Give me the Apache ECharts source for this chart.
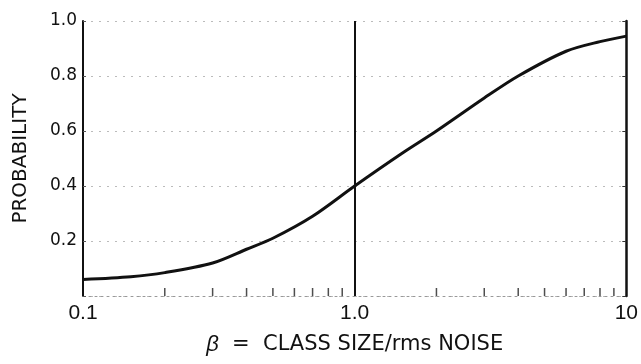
<!DOCTYPE html>
<html>
<head>
<meta charset="utf-8">
<script src="https://cdn.jsdelivr.net/npm/echarts@6/dist/echarts.min.js"></script>
<style>
  html, body { margin: 0; padding: 0; background: #fff; }
  #chart { width: 641px; height: 364px; }
</style>
</head>
<body>
<div id="chart"></div>
<script>
// curve: beta (log scale) vs probability
var beta = [0.1, 0.15, 0.2, 0.3, 0.4, 0.5, 0.7, 1.0, 1.5, 2, 3, 4, 6, 8, 10];
var prob = [0.06, 0.07, 0.085, 0.12, 0.17, 0.21, 0.29, 0.40, 0.52, 0.60, 0.72, 0.80, 0.89, 0.925, 0.945];
// little upward ticks along the bottom axis
var minorTicks = [0.2, 0.3, 0.4, 0.5, 0.6, 0.7, 0.8, 0.9, 2, 3, 4, 5, 6, 7, 8, 9];
var xLabels = { 0.1: '0.1', 1: '1.0', 10: '10' };

var chart = echarts.init(document.getElementById('chart'), null, { renderer: 'canvas' });

var font = '"DejaVu Sans", "Liberation Sans", Arial, sans-serif';
var font2 = '"Liberation Sans", Arial, sans-serif';

var option = {
    backgroundColor: '#fff',
    animation: false,
    grid: { left: 83, right: 11, top: 21, bottom: 68 },
    xAxis: {
        type: 'log',
        logBase: 10,
        min: 0.1,
        max: 10,
        name: '{b|β}  =  CLASS SIZE/rms NOISE',
        nameLocation: 'middle',
        nameGap: 38,
        nameTextStyle: {
            color: '#111', fontFamily: font, fontSize: 21,
            rich: { b: { fontStyle: 'italic', fontSize: 22, color: '#111', fontFamily: font2 } }
        },
        axisLine: { lineStyle: { color: '#999', type: [2, 4], width: 1 } },
        axisTick: { show: false },
        splitLine: { show: false },
        axisLabel: {
            color: '#111', fontFamily: font2, fontSize: 21, margin: 7,
            formatter: function (v) { return xLabels[v] || ''; }
        }
    },
    yAxis: [{
        type: 'value',
        min: 0,
        max: 1,
        interval: 0.2,
        name: 'PROBABILITY',
        nameLocation: 'middle',
        nameGap: 52,
        nameTextStyle: { color: '#111', fontFamily: font, fontSize: 20 },
        axisLine: { show: true, lineStyle: { color: '#111', width: 2 } },
        axisTick: { show: true, inside: true, length: 3, lineStyle: { color: '#555' } },
        splitLine: { show: true, lineStyle: { color: '#bbb', type: [2, 6], width: 1 } },
        axisLabel: {
            color: '#111', fontFamily: font, fontSize: 17, margin: 6,
            formatter: function (v) { return v === 0 ? '' : v.toFixed(1); }
        }
    }, {
        type: 'value',
        min: 0,
        max: 1,
        interval: 0.2,
        position: 'right',
        axisLine: { show: true, lineStyle: { color: '#111', width: 2.5 } },
        axisTick: { show: true, inside: true, length: 4, lineStyle: { color: '#333' } },
        axisLabel: { show: false },
        splitLine: { show: false }
    }],
    series: [{
        type: 'line',
        data: beta.map(function (b, i) { return [b, prob[i]]; }),
        smooth: 0.3,
        showSymbol: false,
        lineStyle: { color: '#111', width: 3 },
        markLine: {
            silent: true,
            symbol: 'none',
            label: { show: false },
            lineStyle: { color: '#111', width: 2, type: 'solid' },
            data: [{ xAxis: 1 }]
        },
        z: 3
    }, {
        type: 'scatter',
        data: minorTicks.map(function (t) { return [t, 0]; }),
        symbol: 'rect',
        symbolSize: [1.5, 8],
        symbolOffset: [0, -4],
        itemStyle: { color: '#222' },
        silent: true,
        z: 2
    }]
};
chart.setOption(option);
</script>
</body>
</html>
